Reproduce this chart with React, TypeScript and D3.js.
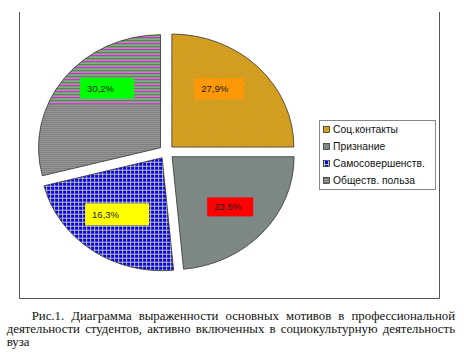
import React, { useEffect, useRef } from "react";
import * as d3 from "d3";

// ---- data ----
const categories = ["Соц.контакты", "Признание", "Самосовершенств.", "Обществ. польза"];
// slice sizes as drawn (angular share of the pie)
const sliceShares = [25, 23.5, 22.5, 29];
// the percentage texts printed on the slices
const percentLabels = ["27,9%", "23,5%", "16,3%", "30,2%"];
const captionLines = [
  "Рис.1. Диаграмма выраженности основных мотивов в профессиональной",
  "деятельности студентов, активно включенных в социокультурную деятельность",
  "вуза",
];

// ---- layout / style ----
const W = 464, H = 352;
const CX = 166.5, CY = 152, R = 113, SX = 1.08, EXPLODE = 7;
const patternIds = ["pGold", "pCheck", "pGrid", "pGray"];
const labelFills = ["url(#pOrange)", "#ff0000", "#ffff00", "#00ff00"];
const labelNudge = [[-13, -2.5], [-5, -3], [4, -8], [14, -11]];
const labelBoxW = [50, 46, 64, 54];
const labelBoxH = [21, 19, 22, 21];

export default function App() {
  const ref = useRef<SVGSVGElement>(null);
  useEffect(() => {
    const svg = d3.select(ref.current);
    svg.selectAll("*").remove();
    const defs = svg.append("defs");
    const unscale = `scale(${1 / SX},1)`;

    const mk = (id: string, w: number, h: number, bg: string, cells: [number, number, number, number, string][], inPie = true) => {
      const p = defs.append("pattern").attr("id", id).attr("patternUnits", "userSpaceOnUse")
        .attr("width", w).attr("height", h);
      if (inPie) p.attr("patternTransform", unscale);
      p.append("rect").attr("width", w).attr("height", h).attr("fill", bg);
      cells.forEach(([x, y, cw, ch, f]) => p.append("rect").attr("x", x).attr("y", y).attr("width", cw).attr("height", ch).attr("fill", f));
    };
    const gold: [number, number, number, number, string][] = [[0, 0, 1, 1, "#c48478"], [3, 3, 1, 1, "#c48478"]];
    const check: [number, number, number, number, string][] = [[1, 0, 1, 1, "#927070"], [0, 1, 1, 1, "#927070"]];
    const grid: [number, number, number, number, string][] = [[0, 0, 4, 1, "#c4c496"], [0, 0, 1, 4, "#c4c496"]];
    const gray: [number, number, number, number, string][] = [[0, 0, 4, 1, "#6e6e6e"]];
    // pie patterns (drawn inside the x-stretched group, so un-stretched to stay crisp)
    mk("pGold", 6, 6, "#d4a01c", gold);
    mk("pCheck", 2, 2, "#68a09c", check);
    mk("pGrid", 4, 4, "#0000ff", grid);
    mk("pGray", 4, 2, "#a8a8a8", gray);
    mk("pMag", 4, 3, "#b0b0b0", [[0, 0, 4, 1, "#ff00ff"], [0, 1, 4, 1, "#00e000"]]);
    // patterns in plain page space
    mk("pOrange", 6, 6, "#ff9900", [[0, 0, 1, 1, "#d88a6a"], [3, 3, 1, 1, "#d88a6a"]], false);
    mk("lGold", 6, 6, "#d4a01c", gold, false);
    mk("lCheck", 2, 2, "#68a09c", check, false);
    mk("lGrid", 4, 4, "#0000ff", grid, false);
    mk("lGray", 4, 2, "#a8a8a8", gray, false);
    const legendPatterns = ["lGold", "lCheck", "lGrid", "lGray"];

    defs.append("clipPath").attr("id", "topClip").append("rect")
      .attr("x", -200).attr("y", -200).attr("width", 400).attr("height", 108 - CY + 200);

    // frame
    svg.append("path").attr("d", `M19.5,12 V298.5 H439.5 V12`)
      .attr("fill", "none").attr("stroke", "#555").attr("stroke-width", 1);

    // pie
    const pie = d3.pie<number>().sort(null).value((d) => d)(sliceShares);
    const arc = d3.arc<d3.PieArcDatum<number>>().innerRadius(0).outerRadius(R);
    const g = svg.append("g").attr("transform", `translate(${CX},${CY}) scale(${SX},1)`);
    pie.forEach((a, i) => {
      const mid = (a.startAngle + a.endAngle) / 2;
      const ox = Math.sin(mid) * EXPLODE, oy = -Math.cos(mid) * EXPLODE;
      const sg = g.append("g").attr("transform", `translate(${ox},${oy})`);
      sg.append("path").attr("d", arc(a)!).attr("fill", `url(#${patternIds[i]})`);
      if (i === 3) {
        sg.append("path").attr("d", arc(a)!).attr("fill", "url(#pMag)").attr("clip-path", "url(#topClip)");
      }
      sg.append("path").attr("d", arc(a)!).attr("fill", "none")
        .attr("stroke", "#333").attr("stroke-width", 0.8).attr("vector-effect", "non-scaling-stroke");
    });

    // labels
    const lr = 79;
    pie.forEach((a, i) => {
      const mid = (a.startAngle + a.endAngle) / 2;
      const px = CX + Math.sin(mid) * (lr + EXPLODE) * SX + labelNudge[i][0];
      const py = CY - Math.cos(mid) * (lr + EXPLODE) + labelNudge[i][1];
      const bw = labelBoxW[i], bh = labelBoxH[i];
      svg.append("rect").attr("x", px - bw / 2).attr("y", py - bh / 2).attr("width", bw).attr("height", bh)
        .attr("fill", labelFills[i]);
      svg.append("text").attr("x", px - bw / 2 + 7).attr("y", py + 3.5)
        .attr("font-family", "Liberation Sans, Arial, sans-serif").attr("font-size", 9.5)
        .attr("fill", "#1a1a1a").text(percentLabels[i]);
    });

    // legend
    const lg = svg.append("g");
    lg.append("rect").attr("x", 319.5).attr("y", 120.5).attr("width", 116).attr("height", 69)
      .attr("fill", "#fff").attr("stroke", "#888").attr("stroke-width", 1);
    categories.forEach((c, i) => {
      const y = 129.5 + i * 17;
      lg.append("rect").attr("x", 323.5).attr("y", y - 3).attr("width", 6).attr("height", 6)
        .attr("fill", `url(#${legendPatterns[i]})`).attr("stroke", "#222").attr("stroke-width", 0.7);
      lg.append("text").attr("x", 333).attr("y", y + 3.8)
        .attr("font-family", "Liberation Sans, Arial, sans-serif").attr("font-size", 10.3)
        .attr("fill", "#111").text(c);
    });

    // caption (justified)
    const capStarts = [31.7, 6.7, 6.7];
    const capEnd = 455;
    captionLines.forEach((line, i) => {
      const t = svg.append("text").attr("x", capStarts[i]).attr("y", 320 + i * 12.8)
        .attr("font-family", "Liberation Serif, Times New Roman, serif").attr("font-size", 12.8)
        .attr("fill", "#111").text(line);
      if (i < captionLines.length - 1) {
        const natural = (t.node() as SVGTextElement).getComputedTextLength();
        const spaces = (line.match(/ /g) || []).length;
        if (spaces > 0) t.attr("word-spacing", (capEnd - capStarts[i] - natural) / spaces);
      }
    });
  }, []);
  return (
    <svg ref={ref} width={W} height={H} style={{ position: "absolute", left: 0, top: 0, background: "#fff" }} />
  );
}
